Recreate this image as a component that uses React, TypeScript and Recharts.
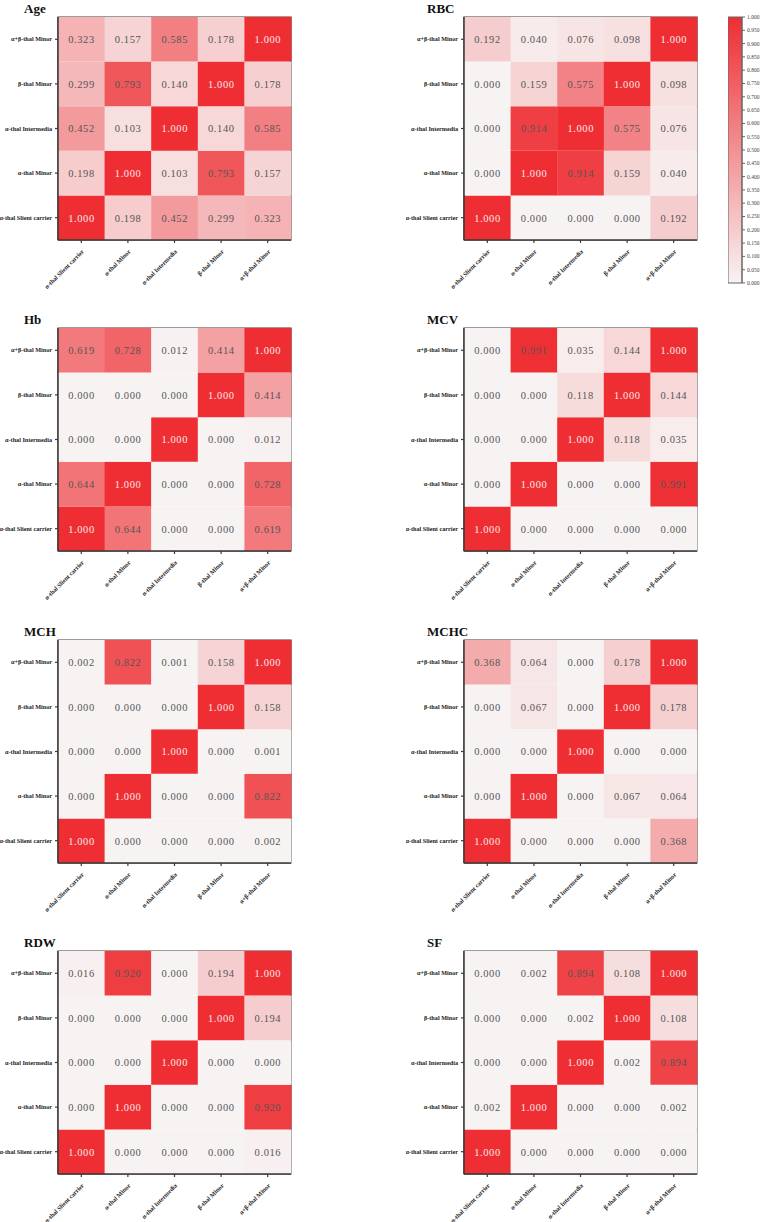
import React from "react";
import {
  Bar,
  BarChart,
  Cell,
  LabelList,
  ReferenceArea,
  XAxis,
  YAxis
} from "recharts";

// groups, bottom-to-top on y, left-to-right on x
const groups = [
  "α-thal Slient carrier",
  "α-thal Minor",
  "α-thal Intermedia",
  "β-thal Minor",
  "α+β-thal Minor"
];

// each matrix: rows bottom -> top (same order as groups), columns left -> right
const ageMatrix = [
  [1.0, 0.198, 0.452, 0.299, 0.323],
  [0.198, 1.0, 0.103, 0.793, 0.157],
  [0.452, 0.103, 1.0, 0.14, 0.585],
  [0.299, 0.793, 0.14, 1.0, 0.178],
  [0.323, 0.157, 0.585, 0.178, 1.0]
];
const rbcMatrix = [
  [1.0, 0.0, 0.0, 0.0, 0.192],
  [0.0, 1.0, 0.914, 0.159, 0.04],
  [0.0, 0.914, 1.0, 0.575, 0.076],
  [0.0, 0.159, 0.575, 1.0, 0.098],
  [0.192, 0.04, 0.076, 0.098, 1.0]
];
const hbMatrix = [
  [1.0, 0.644, 0.0, 0.0, 0.619],
  [0.644, 1.0, 0.0, 0.0, 0.728],
  [0.0, 0.0, 1.0, 0.0, 0.012],
  [0.0, 0.0, 0.0, 1.0, 0.414],
  [0.619, 0.728, 0.012, 0.414, 1.0]
];
const mcvMatrix = [
  [1.0, 0.0, 0.0, 0.0, 0.0],
  [0.0, 1.0, 0.0, 0.0, 0.991],
  [0.0, 0.0, 1.0, 0.118, 0.035],
  [0.0, 0.0, 0.118, 1.0, 0.144],
  [0.0, 0.991, 0.035, 0.144, 1.0]
];
const mchMatrix = [
  [1.0, 0.0, 0.0, 0.0, 0.002],
  [0.0, 1.0, 0.0, 0.0, 0.822],
  [0.0, 0.0, 1.0, 0.0, 0.001],
  [0.0, 0.0, 0.0, 1.0, 0.158],
  [0.002, 0.822, 0.001, 0.158, 1.0]
];
const mchcMatrix = [
  [1.0, 0.0, 0.0, 0.0, 0.368],
  [0.0, 1.0, 0.0, 0.067, 0.064],
  [0.0, 0.0, 1.0, 0.0, 0.0],
  [0.0, 0.067, 0.0, 1.0, 0.178],
  [0.368, 0.064, 0.0, 0.178, 1.0]
];
const rdwMatrix = [
  [1.0, 0.0, 0.0, 0.0, 0.016],
  [0.0, 1.0, 0.0, 0.0, 0.92],
  [0.0, 0.0, 1.0, 0.0, 0.0],
  [0.0, 0.0, 0.0, 1.0, 0.194],
  [0.016, 0.92, 0.0, 0.194, 1.0]
];
const sfMatrix = [
  [1.0, 0.0, 0.0, 0.0, 0.0],
  [0.002, 1.0, 0.0, 0.0, 0.002],
  [0.0, 0.0, 1.0, 0.002, 0.894],
  [0.0, 0.0, 0.002, 1.0, 0.108],
  [0.0, 0.002, 0.894, 0.108, 1.0]
];

const panels = [
  { title: "Age", matrix: ageMatrix },
  { title: "RBC", matrix: rbcMatrix },
  { title: "Hb", matrix: hbMatrix },
  { title: "MCV", matrix: mcvMatrix },
  { title: "MCH", matrix: mchMatrix },
  { title: "MCHC", matrix: mchcMatrix },
  { title: "RDW", matrix: rdwMatrix },
  { title: "SF", matrix: sfMatrix }
];

const colorbarTicks = [
  0, 0.05, 0.1, 0.15, 0.2, 0.25, 0.3, 0.35, 0.4, 0.45, 0.5,
  0.55, 0.6, 0.65, 0.7, 0.75, 0.8, 0.85, 0.9, 0.95, 1.0
];

const LOW = [248, 243, 243];
const HIGH = [238, 46, 51];
const heat = (v: number) => {
  const c = LOW.map((l, k) => Math.round(l + (HIGH[k] - l) * v));
  return `rgb(${c[0]},${c[1]},${c[2]})`;
};

const SERIF = "'Liberation Serif', 'Times New Roman', serif";
const AXIS = "#3a3a3a";

const XTick = (props: any) => {
  const { x, y, payload } = props;
  const ax = x + 3;
  const ay = y + 7;
  return (
    <text
      x={ax}
      y={ay}
      textAnchor="end"
      fontSize={6.2}
      fontWeight="bold"
      fontFamily={SERIF}
      fill="#222"
      transform={`rotate(-45 ${ax} ${ay})`}
    >
      {payload.value}
    </text>
  );
};

const YTick = (props: any) => {
  const { x, y, payload } = props;
  return (
    <text
      x={x - 1}
      y={y}
      dy={2}
      textAnchor="end"
      fontSize={6.2}
      fontWeight="bold"
      fontFamily={SERIF}
      fill="#222"
    >
      {groups[Math.round(payload.value - 0.5)]}
    </text>
  );
};

const cellLabel = (props: any) => {
  const { x, y, width, height, value } = props;
  const v = Number(value);
  return (
    <text
      x={x + width / 2}
      y={y + height / 2}
      dy={3.8}
      textAnchor="middle"
      fontSize={10.5}
      fontFamily={SERIF}
      letterSpacing={0.6}
      fill={v >= 0.9995 ? "#fde8e8" : "#555"}
    >
      {v.toFixed(3)}
    </text>
  );
};

function Heatmap({ title, matrix, left, top }: { title: string; matrix: number[][]; left: number; top: number }) {
  const data = groups.map((g, j) => {
    const row: Record<string, any> = { name: g };
    matrix.forEach((r, i) => {
      row[`r${i}`] = 1;
      row[`v${i}`] = r[j];
    });
    return row;
  });
  return (
    <div style={{ position: "absolute", left, top, width: 296, height: 312 }}>
      <div
        style={{
          position: "absolute",
          left: left === 0 ? 24 : 21,
          top: 2,
          fontFamily: SERIF,
          fontWeight: "bold",
          fontSize: 13,
          lineHeight: 1,
          color: "#111"
        }}
      >
        {title}
      </div>
      <BarChart
        width={296}
        height={312}
        data={data}
        margin={{ top: 17, right: 5, left: 0, bottom: 0 }}
        barCategoryGap={0}
        barGap={0}
      >
        <XAxis
          dataKey="name"
          height={72}
          interval={0}
          tick={<XTick />}
          tickSize={3}
          axisLine={{ stroke: AXIS, strokeWidth: 1.5 }}
          tickLine={{ stroke: AXIS, strokeWidth: 1.2 }}
        />
        <YAxis
          type="number"
          domain={[0, 5]}
          ticks={[0.5, 1.5, 2.5, 3.5, 4.5]}
          width={58}
          tickSize={3}
          tick={<YTick />}
          axisLine={{ stroke: AXIS, strokeWidth: 1.5 }}
          tickLine={{ stroke: AXIS, strokeWidth: 1.2 }}
        />
        {matrix.map((r, i) => (
          <Bar key={i} dataKey={`r${i}`} stackId="s" isAnimationActive={false}>
            {groups.map((g, j) => (
              <Cell key={g} fill={heat(r[j])} />
            ))}
            <LabelList dataKey={`v${i}`} content={cellLabel} />
          </Bar>
        ))}
        <ReferenceArea
          x1={groups[0]}
          x2={groups[4]}
          y1={0}
          y2={5}
          fill="none"
          fillOpacity={0}
          stroke={AXIS}
          strokeWidth={1.2}
          ifOverflow="visible"
        />
      </BarChart>
    </div>
  );
}

function Colorbar() {
  return (
    <div style={{ position: "absolute", left: 728, top: 0, width: 37, height: 290 }}>
      <BarChart
        width={37}
        height={290}
        data={[{ name: "scale", v: 1 }]}
        margin={{ top: 17, right: 0, left: 0, bottom: 7 }}
        barCategoryGap={0}
      >
        <defs>
          <linearGradient id="heatGrad" x1="0" y1="0" x2="0" y2="1">
            <stop offset="0%" stopColor={heat(1)} />
            <stop offset="100%" stopColor={heat(0)} />
          </linearGradient>
        </defs>
        <XAxis dataKey="name" hide />
        <YAxis
          orientation="right"
          type="number"
          domain={[0, 1]}
          ticks={colorbarTicks}
          interval={0}
          tickFormatter={(v: number) => v.toFixed(3)}
          width={23}
          tickSize={3}
          tick={{ fontSize: 5.5, fontFamily: SERIF, fill: "#444" }}
          axisLine={{ stroke: "#666" }}
          tickLine={{ stroke: "#666" }}
        />
        <Bar dataKey="v" fill="url(#heatGrad)" stroke="#666" strokeWidth={1} isAnimationActive={false} />
      </BarChart>
    </div>
  );
}

export default function App() {
  return (
    <div style={{ position: "absolute", left: 0, top: 0, width: 765, height: 1222, background: "#fff" }}>
      {panels.map((p, k) => (
        <Heatmap
          key={p.title}
          title={p.title}
          matrix={p.matrix}
          left={k % 2 === 0 ? 0 : 406}
          top={Math.round(Math.floor(k / 2) * 311.3)}
        />
      ))}
      <Colorbar />
    </div>
  );
}
